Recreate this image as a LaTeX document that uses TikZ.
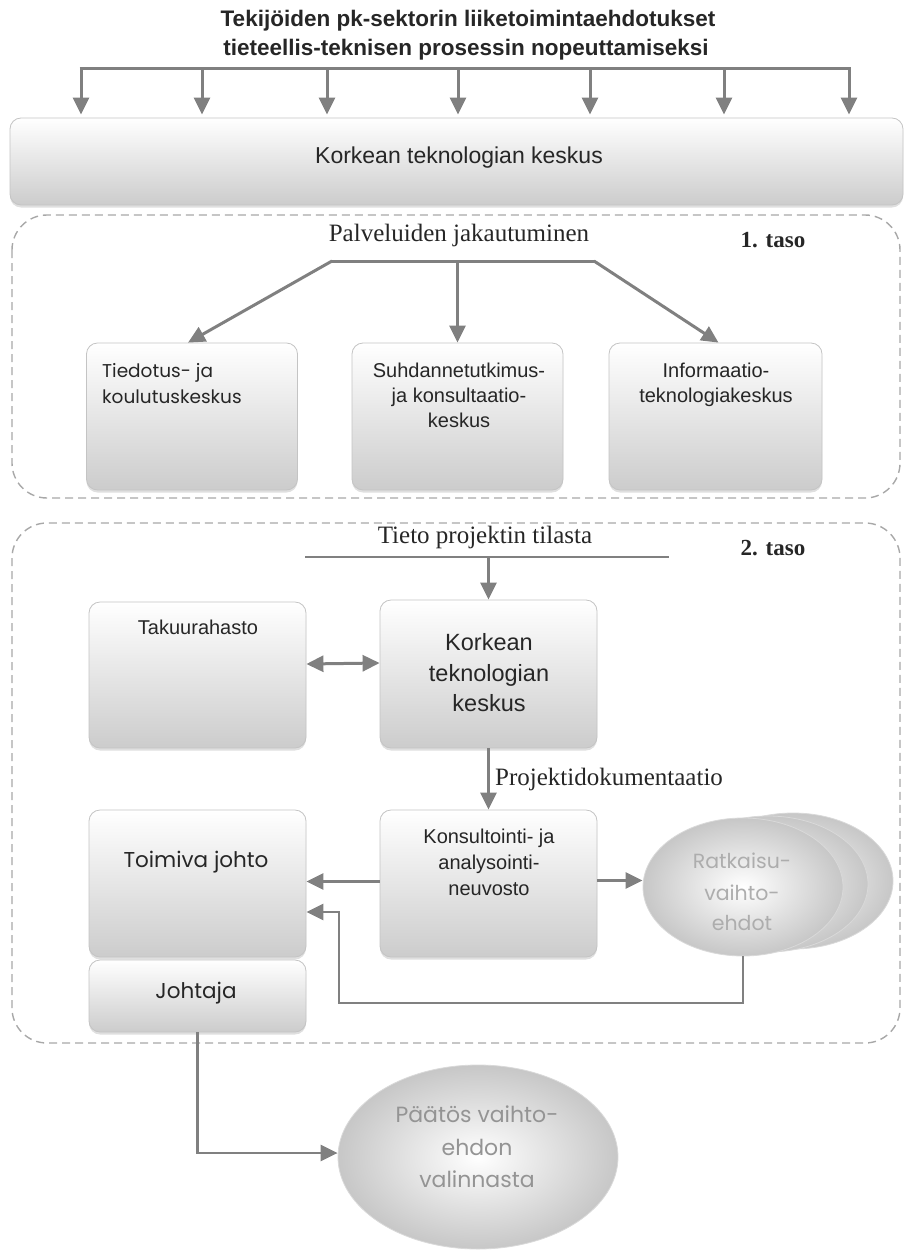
\documentclass[tikz,border=0pt]{standalone}
\usepackage{fontspec}
\setmainfont{Liberation Serif}
\newfontfamily\boxsf{Liberation Sans}
\newfontfamily\geosf{Poppins}
\usetikzlibrary{arrows.meta,shapes.geometric,shadows,calc}
\definecolor{arrowgray}{HTML}{808080}
\definecolor{boxedge}{HTML}{C4C4C4}
\definecolor{dashgray}{HTML}{A8A8A8}
\definecolor{inktext}{HTML}{262626}
\begin{document}
\begin{tikzpicture}[x=1pt,y=-1pt,
  arr/.style={draw=arrowgray, line width=3pt, -{Triangle[length=17pt,width=16pt]}},
  darr/.style={draw=arrowgray, line width=3pt, {Triangle[length=17pt,width=16pt]}-{Triangle[length=17pt,width=16pt]}},
  plain/.style={draw=arrowgray, line width=3pt},
  box/.style={draw=boxedge, line width=0.8pt, rounded corners=11pt, inner sep=0pt,
    top color=white, bottom color=black!20,
    drop shadow={shadow xshift=0pt, shadow yshift=-2.5pt, opacity=0.25}},
  oval/.style={ellipse, draw=white!85!black, line width=0.8pt, inner sep=0pt,
    inner color=white, outer color=black!22},
  region/.style={draw=dashgray, line width=1.4pt, dash pattern=on 8pt off 5pt, rounded corners=35pt},
  txt/.style={text=inktext, inner sep=0pt, anchor=base},
  sanstext/.style={txt, font=\boxsf\fontsize{20}{24}\selectfont},
  bigsans/.style={txt, font=\boxsf\fontsize{23.5}{28}\selectfont},
  geotext/.style={txt, font=\geosf\fontsize{18.5}{24}\selectfont},
  geobig/.style={txt, font=\geosf\fontsize{21.5}{26}\selectfont},
  serifcap/.style={txt, font=\fontsize{25}{28}\selectfont},
  tasocap/.style={txt, font=\bfseries\fontsize{23}{26}\selectfont},
]
\useasboundingbox (0,0) rectangle (905,1250);

% dashed level regions
\draw[region] (12,215) rectangle (900,498);
\draw[region] (12,523) rectangle (900,1043);

% heading and the top centre
\node[txt, font=\boxsf\bfseries\fontsize{22.5}{28}\selectfont] (title1) at (468,27)
  {Tekijöiden pk-sektorin liiketoimintaehdotukset};
\node[txt, font=\boxsf\bfseries\fontsize{22.5}{28}\selectfont] (title2) at (466,55)
  {tieteellis-teknisen prosessin nopeuttamiseksi};
\node[box, minimum width=893pt, minimum height=87pt] (htc) at (456.5,161.5) {};
\node[txt, font=\boxsf\fontsize{23}{28}\selectfont] (htclbl) at (459,163) {Korkean teknologian keskus};

\coordinate (busL) at (81,68);
\coordinate (busR) at (849,68);
\draw[plain] ([xshift=-1.5pt]busL) -- ([xshift=1.5pt]busR);
\foreach \x in {81,202,327,458,590,724,849}
  \draw[arr, shorten >=3pt] (busL -| \x,0) -- (htc.north -| \x,0);

% level 1
\node[serifcap] (jak) at (459,241) {Palveluiden jakautuminen};
\node[tasocap] (taso1) at (773,247) {1. taso};

\node[box, minimum width=211pt, minimum height=147pt] (tk) at (192,416.5) {};
\node[box, minimum width=211pt, minimum height=147pt] (sk) at (457.5,416.5) {};
\node[box, minimum width=213pt, minimum height=147pt] (ik) at (715.5,416.5) {};

\node[geotext, anchor=base west] (tk1) at (102,377) {Tiedotus- ja};
\node[geotext, anchor=base west] (tk2) at (102,403) {koulutuskeskus};
\node[sanstext] (sk1) at (459,377) {Suhdannetutkimus-};
\node[sanstext] (sk2) at (459,402) {ja konsultaatio-};
\node[sanstext] (sk3) at (459,427) {keskus};
\node[sanstext] (ik1) at (716,377) {Informaatio-};
\node[sanstext] (ik2) at (716,402) {teknologiakeskus};

\coordinate (splitL) at (332,261);
\coordinate (splitR) at (594,261);
\draw[plain] ([xshift=-1pt]splitL) -- ([xshift=1pt]splitR);
\draw[arr] (splitL) -- ([xshift=-4pt]tk.north);
\draw[arr] (sk.north |- splitL) -- (sk.north);
\draw[arr] (splitR) -- ([xshift=3pt]ik.north);

% level 2
\node[serifcap] (tieto) at (485,543) {Tieto projektin tilasta};
\node[tasocap] (taso2) at (773,555) {2. taso};
\coordinate (infoL) at (305,557);
\coordinate (infoR) at (669,557);
\draw[plain, line width=2pt] (infoL) -- (infoR);

\node[box, minimum width=217pt, minimum height=146pt] (takuu) at (197.5,675) {};
\node[sanstext] (takuulbl) at (198,634) {Takuurahasto};
\node[box, minimum width=217pt, minimum height=148pt] (ktk) at (488.5,674) {};
\node[bigsans] (ktk1) at (489,650) {Korkean};
\node[bigsans] (ktk2) at (489,681) {teknologian};
\node[bigsans] (ktk3) at (489,711) {keskus};

\draw[arr] (ktk.north |- infoL) -- (ktk.north);
\draw[darr] ([yshift=11pt]takuu.east) -- ([yshift=11pt]ktk.west);

\node[box, minimum width=217pt, minimum height=147pt] (toim) at (197.5,883.5) {};
\node[geobig] (toimlbl) at (196,867) {Toimiva johto};
\node[box, minimum width=217pt, minimum height=72pt] (joht) at (197.5,996) {};
\node[geobig] (johtlbl) at (196,998) {Johtaja};

\node[box, minimum width=217pt, minimum height=147pt] (kon) at (488.5,883.5) {};
\node[sanstext] (kon1) at (489,843) {Konsultointi- ja};
\node[sanstext] (kon2) at (489,869) {analysointi-};
\node[sanstext] (kon3) at (489,895) {neuvosto};

\draw[arr] (ktk.south) -- (kon.north);
\node[serifcap, anchor=base west] (doc) at (495,785) {Projektidokumentaatio};

% stacked solution ellipses
\node[oval, minimum width=200pt, minimum height=136pt] (rv3) at (793,881) {};
\node[oval, minimum width=200pt, minimum height=136pt] (rv2) at (768,884) {};
\node[oval, minimum width=200pt, minimum height=138pt] (rv1) at (743,887) {};
\node[txt, text=white!68!black, font=\geosf\fontsize{20.5}{26}\selectfont] (rv1a) at (742,868) {Ratkaisu-};
\node[txt, text=white!68!black, font=\geosf\fontsize{20.5}{26}\selectfont] (rv1b) at (742,900) {vaihto-};
\node[txt, text=white!68!black, font=\geosf\fontsize{20.5}{26}\selectfont] (rv1c) at (742,930) {ehdot};

\coordinate (konL) at ([yshift=2pt]kon.west);
\coordinate (konR) at ([yshift=3pt]kon.east);
\draw[arr] (konL) -- (konL -| toim.east);
\draw[arr] (konR) -- (konR -| rv1.west);

\coordinate (fbA) at (339,1003);
\draw[arr, line width=2.5pt] (rv1.south) |- (fbA) |- ([yshift=-28.5pt]toim.east);

% decision
\node[oval, minimum width=280pt, minimum height=184pt] (dec) at (478,1157) {};
\node[txt, text=white!58!black, font=\geosf\fontsize{22}{26}\selectfont] (dec1) at (477,1122) {Päätös vaihto-};
\node[txt, text=white!58!black, font=\geosf\fontsize{22}{26}\selectfont] (dec2) at (477,1155) {ehdon};
\node[txt, text=white!58!black, font=\geosf\fontsize{22}{26}\selectfont] (dec3) at (477,1187) {valinnasta};
\draw[arr, line width=2.5pt] (joht.south) |- ([yshift=4pt]dec.west);
\end{tikzpicture}
\end{document}
